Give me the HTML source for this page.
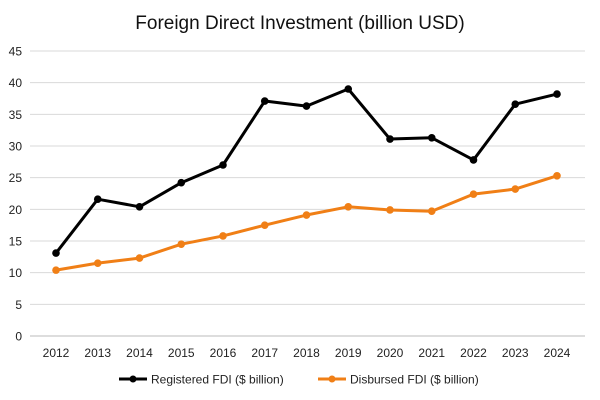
<!DOCTYPE html>
<html><head><meta charset="utf-8"><style>
body{margin:0;background:#fff;}
svg{display:block;font-family:"Liberation Sans",sans-serif;}
</style></head><body>
<svg id="chart" width="600" height="400" viewBox="0 0 600 400">
<text x="300" y="29" text-anchor="middle" font-size="19" fill="#111">Foreign Direct Investment (billion USD)</text>
<g id="grid"></g><g id="series"></g>
<g>
<g>
<line x1="119" y1="379" x2="147" y2="379" stroke="#000" stroke-width="3"/><circle cx="133" cy="379" r="3.5" fill="#000"/>
<text x="151" y="383.5" font-size="12" fill="#222">Registered FDI ($ billion)</text></g>
<g>
<line x1="318" y1="379" x2="346" y2="379" stroke="#F07F16" stroke-width="3"/><circle cx="332" cy="379" r="3.5" fill="#F07F16"/>
<text x="350" y="383.5" font-size="12" fill="#222">Disbursed FDI ($ billion)</text></g>
</g>
</svg>
<script>
const years=["2012","2013","2014","2015","2016","2017","2018","2019","2020","2021","2022","2023","2024"];
const registered=[13.1,21.6,20.4,24.2,27.0,37.1,36.3,39.0,31.1,31.3,27.8,36.6,38.2];
const disbursed=[10.4,11.5,12.3,14.5,15.8,17.5,19.1,20.4,19.9,19.7,22.4,23.2,25.3];
const yTicks=[0,5,10,15,20,25,30,35,40,45];
const NS="http://www.w3.org/2000/svg";
const x0=56,x1=557,yBase=336,yTop=51,yMax=45;
const xs=i=>x0+i*(x1-x0)/(years.length-1);
const ys=v=>yBase-v*(yBase-yTop)/yMax;
function mk(t,a,p){const e=document.createElementNS(NS,t);for(const k in a)e.setAttribute(k,a[k]);p.appendChild(e);return e;}
const grid=document.getElementById('grid');
yTicks.forEach(v=>{
 const l=mk('line',{x1:30,x2:585,y1:ys(v),y2:ys(v),stroke:v===0?'#bbb':'#d9d9d9','stroke-width':1},grid);
 
 
 const t=mk('text',{x:22,y:ys(v)+4.5,'text-anchor':'end','font-size':12,fill:'#222'},grid);t.textContent=v;
 
 
});
years.forEach((y,i)=>{
 const t=mk('text',{x:xs(i),y:357,'text-anchor':'middle','font-size':12,fill:'#222'},grid);t.textContent=y;
 
 
});
const ser=document.getElementById('series');
[[registered,'#000','registered'],[disbursed,'#F07F16','disbursed']].forEach(([d,c,n])=>{
 const p=mk('polyline',{points:d.map((v,i)=>xs(i)+','+ys(v)).join(' '),fill:'none',stroke:c,'stroke-width':3,'stroke-linejoin':'round'},ser);
 
 
 d.forEach((v,i)=>{const m=mk('circle',{cx:xs(i),cy:ys(v),r:3.8,fill:c},ser);
 
 });
});
</script>
</body></html>
